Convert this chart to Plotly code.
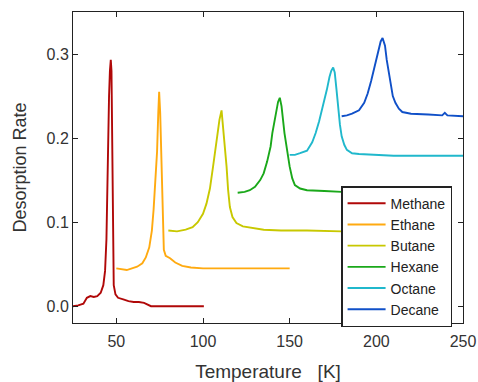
import plotly.graph_objects as go

# ---- data ----
methane_T = [25, 28, 31, 33, 35, 37, 39, 41, 42.5, 43.5, 44.3, 44.9, 45.4, 45.8, 46.3, 46.8, 47.2, 47.6, 48.0, 48.5, 49.5, 51, 54, 57, 60, 63, 66, 68, 70, 72, 80, 90, 100.5]
methane_y = [0.0, 0.001, 0.003, 0.010, 0.012, 0.011, 0.012, 0.016, 0.025, 0.042, 0.08, 0.15, 0.233, 0.25, 0.28, 0.293, 0.28, 0.2, 0.06, 0.025, 0.014, 0.010, 0.008, 0.006, 0.005, 0.005, 0.004, 0.002, 0.0, 0.0, 0.0, 0.0, 0.0]

ethane_T = [50, 53, 56, 59, 62, 65, 67, 69, 70.5, 71.5, 72.2, 73.0, 73.5, 74.2, 74.7, 75.3, 76.0, 76.7, 77.4, 78.5, 81, 84, 88, 93, 100, 110, 120, 130, 140, 150]
ethane_y = [0.045, 0.044, 0.043, 0.045, 0.047, 0.051, 0.058, 0.07, 0.09, 0.115, 0.142, 0.16, 0.184, 0.23, 0.255, 0.23, 0.18, 0.1, 0.067, 0.060, 0.057, 0.052, 0.048, 0.046, 0.045, 0.045, 0.045, 0.045, 0.045, 0.045]

butane_T = [80, 85, 90, 94, 97, 100, 102, 104, 105.8, 107, 108.2, 109.5, 110.7, 112, 113.6, 114.5, 115.5, 117, 119.3, 123, 128, 135, 145, 160, 180]
butane_y = [0.090, 0.089, 0.091, 0.094, 0.100, 0.110, 0.122, 0.140, 0.166, 0.186, 0.206, 0.222, 0.233, 0.205, 0.166, 0.138, 0.118, 0.106, 0.099, 0.095, 0.093, 0.091, 0.090, 0.090, 0.089]

hexane_T = [120, 124, 127, 130, 133, 135, 137, 139, 140, 141, 142, 143.3, 144.3, 145.3, 147, 148.5, 150, 151.5, 153, 156, 160, 170, 180, 200, 220]
hexane_y = [0.135, 0.136, 0.138, 0.142, 0.150, 0.158, 0.172, 0.19, 0.206, 0.218, 0.23, 0.243, 0.248, 0.238, 0.206, 0.185, 0.166, 0.152, 0.144, 0.140, 0.138, 0.137, 0.136, 0.136, 0.136]

octane_T = [150, 153, 156, 160, 163, 165, 167, 169, 170, 171.5, 173, 174, 175.1, 176, 177, 178, 179, 180, 181.5, 183, 186, 190, 200, 210, 225, 250]
octane_y = [0.180, 0.180, 0.182, 0.185, 0.195, 0.206, 0.220, 0.236, 0.245, 0.258, 0.273, 0.280, 0.284, 0.278, 0.258, 0.233, 0.216, 0.202, 0.192, 0.186, 0.182, 0.181, 0.180, 0.179, 0.179, 0.179]

decane_T = [180, 183, 186, 190, 193, 195, 197, 199, 200, 201, 202.5, 203.6, 205, 206, 207, 208, 209.5, 211, 213, 215, 220, 230, 238, 239.5, 241, 250]
decane_y = [0.226, 0.227, 0.229, 0.233, 0.242, 0.253, 0.268, 0.285, 0.295, 0.305, 0.315, 0.319, 0.310, 0.293, 0.280, 0.265, 0.250, 0.242, 0.235, 0.231, 0.229, 0.228, 0.227, 0.230, 0.227, 0.226]

names = ["Methane", "Ethane", "Butane", "Hexane", "Octane", "Decane"]
colors = ["#b00808", "#ffaa10", "#c8c800", "#1aa81a", "#20b8cc", "#1050c8"]
series = [(methane_T, methane_y), (ethane_T, ethane_y), (butane_T, butane_y),
          (hexane_T, hexane_y), (octane_T, octane_y), (decane_T, decane_y)]

x_ticks = [50, 100, 150, 200, 250]
y_ticks = [0.0, 0.1, 0.2, 0.3]

fig = go.Figure()
for name, color, (t, y) in zip(names, colors, series):
    fig.add_trace(go.Scatter(x=t, y=y, mode="lines", name=name,
                             line=dict(color=color, width=1.9)))

font_family = "Liberation Sans, Arial, sans-serif"
axis_common = dict(showgrid=False, zeroline=False, showline=True, linecolor="#222",
                   linewidth=1, mirror="ticks", ticks="inside", ticklen=5,
                   tickcolor="#222", automargin=False,
                   tickfont=dict(size=16, color="#333", family=font_family))

fig.update_layout(
    width=478, height=382,
    margin=dict(l=73, r=15, t=12, b=59),
    paper_bgcolor="white", plot_bgcolor="white",
    font=dict(family=font_family, color="#333"),
    xaxis=dict(range=[25, 250], tickvals=x_ticks, ticktext=[str(v) for v in x_ticks],
               title=dict(text="Temperature\u00a0\u00a0\u00a0[K]", font=dict(size=19, color="#333")),
               ticklabelstandoff=4,
               **axis_common),
    yaxis=dict(range=[-0.02, 0.35], tickvals=y_ticks, ticktext=["0.0", "0.1", "0.2", "0.3"],
               title=dict(text="Desorption Rate", font=dict(size=18, color="#333")),
               **axis_common),
    legend=dict(x=0.972, y=0.44, xanchor="right", yanchor="top",
                bgcolor="white", bordercolor="#222", borderwidth=1.5,
                font=dict(size=14, color="#222", family=font_family),
                tracegroupgap=0, itemwidth=38),
    showlegend=True,
)

fig.write_html("out.html", config={"displayModeBar": False},
               post_script="document.body.style.margin='0px';document.body.style.overflow='hidden';")
